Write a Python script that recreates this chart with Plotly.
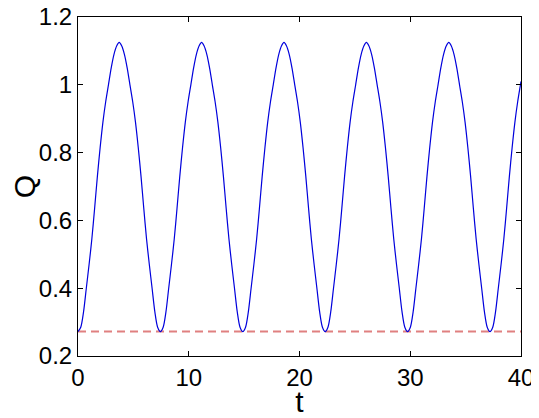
import plotly.graph_objects as go

# time samples (five full periods of ~7.44 plus the last rise)
t = [
    0.00, 0.25, 0.50, 0.75, 1.00, 1.25, 1.50, 1.75, 2.00, 2.25, 2.50, 2.75, 3.00, 3.25, 3.50,
    3.72, 3.94, 4.19, 4.44, 4.69, 4.94, 5.19, 5.44, 5.69, 5.94, 6.19, 6.44, 6.69, 6.94, 7.19,
    7.44, 7.69, 7.94, 8.19, 8.44, 8.69, 8.94, 9.19, 9.44, 9.69, 9.94, 10.19, 10.44, 10.69, 10.94,
    11.16, 11.38, 11.63, 11.88, 12.13, 12.38, 12.63, 12.88, 13.13, 13.38, 13.63, 13.88, 14.13, 14.38, 14.63,
    14.88, 15.13, 15.38, 15.63, 15.88, 16.13, 16.38, 16.63, 16.88, 17.13, 17.38, 17.63, 17.88, 18.13, 18.38,
    18.60, 18.82, 19.07, 19.32, 19.57, 19.82, 20.07, 20.32, 20.57, 20.82, 21.07, 21.32, 21.57, 21.82, 22.07,
    22.32, 22.57, 22.82, 23.07, 23.32, 23.57, 23.82, 24.07, 24.32, 24.57, 24.82, 25.07, 25.32, 25.57, 25.82,
    26.04, 26.26, 26.51, 26.76, 27.01, 27.26, 27.51, 27.76, 28.01, 28.26, 28.51, 28.76, 29.01, 29.26, 29.51,
    29.76, 30.01, 30.26, 30.51, 30.76, 31.01, 31.26, 31.51, 31.76, 32.01, 32.26, 32.51, 32.76, 33.01, 33.26,
    33.48, 33.70, 33.95, 34.20, 34.45, 34.70, 34.95, 35.20, 35.45, 35.70, 35.95, 36.20, 36.45, 36.70, 36.95,
    37.20, 37.45, 37.70, 37.95, 38.20, 38.45, 38.70, 38.95, 39.20, 39.45, 39.70, 39.95, 40.00,
]

Q = [
    0.272, 0.285, 0.33, 0.40, 0.47, 0.545, 0.635, 0.73, 0.815, 0.89, 0.95, 1.0, 1.05, 1.09, 1.115,
    1.125, 1.115, 1.09, 1.05, 1.0, 0.95, 0.89, 0.815, 0.73, 0.635, 0.545, 0.47, 0.40, 0.33, 0.285,
    0.272, 0.285, 0.33, 0.40, 0.47, 0.545, 0.635, 0.73, 0.815, 0.89, 0.95, 1.0, 1.05, 1.09, 1.115,
    1.125, 1.115, 1.09, 1.05, 1.0, 0.95, 0.89, 0.815, 0.73, 0.635, 0.545, 0.47, 0.40, 0.33, 0.285,
    0.272, 0.285, 0.33, 0.40, 0.47, 0.545, 0.635, 0.73, 0.815, 0.89, 0.95, 1.0, 1.05, 1.09, 1.115,
    1.125, 1.115, 1.09, 1.05, 1.0, 0.95, 0.89, 0.815, 0.73, 0.635, 0.545, 0.47, 0.40, 0.33, 0.285,
    0.272, 0.285, 0.33, 0.40, 0.47, 0.545, 0.635, 0.73, 0.815, 0.89, 0.95, 1.0, 1.05, 1.09, 1.115,
    1.125, 1.115, 1.09, 1.05, 1.0, 0.95, 0.89, 0.815, 0.73, 0.635, 0.545, 0.47, 0.40, 0.33, 0.285,
    0.272, 0.285, 0.33, 0.40, 0.47, 0.545, 0.635, 0.73, 0.815, 0.89, 0.95, 1.0, 1.05, 1.09, 1.115,
    1.125, 1.115, 1.09, 1.05, 1.0, 0.95, 0.89, 0.815, 0.73, 0.635, 0.545, 0.47, 0.40, 0.33, 0.285,
    0.272, 0.285, 0.33, 0.40, 0.47, 0.545, 0.635, 0.73, 0.815, 0.89, 0.95, 1.0, 1.01,
]

# lower bound (dashed)
t_min_line = [0, 40]
Q_min_line = [0.272, 0.272]

x_ticks = [0, 10, 20, 30, 40]
y_ticks = [0.2, 0.4, 0.6, 0.8, 1.0, 1.2]
y_ticklabels = ["0.2", "0.4", "0.6", "0.8", "1", "1.2"]

fig = go.Figure()

fig.add_trace(go.Scatter(
    x=t_min_line, y=Q_min_line, mode="lines",
    line=dict(color="rgb(224,128,128)", width=2, dash="8px,5px"),
    showlegend=False,
))

fig.add_trace(go.Scatter(
    x=t, y=Q, mode="lines",
    line=dict(color="rgb(0,0,220)", width=1.2, shape="spline", smoothing=0.8),
    showlegend=False,
))

axis_style = dict(
    showline=True, linecolor="black", linewidth=1, mirror="ticks",
    ticks="inside", ticklen=5, tickcolor="black",
    showgrid=False, zeroline=False, automargin=False,
    ticklabeloverflow="allow",
    tickfont=dict(family="Liberation Sans, Arial", size=24, color="black"),
)

# page body has an 8px margin, so the figure is a bit smaller than the window
fig.update_layout(
    width=531, height=410,
    margin=dict(l=70, r=18, t=9, b=62),
    plot_bgcolor="white", paper_bgcolor="white",
    xaxis=dict(
        range=[0, 40], tickvals=x_ticks,
        title=dict(text="t", font=dict(family="Liberation Sans, Arial", size=30, color="black"), standoff=0),
        **axis_style,
    ),
    yaxis=dict(
        range=[0.2, 1.2], tickvals=y_ticks, ticktext=y_ticklabels,
        title=dict(text="Q", font=dict(family="Liberation Sans, Arial", size=30, color="black"), standoff=4),
        **axis_style,
    ),
)

fig.write_html("out.html")
